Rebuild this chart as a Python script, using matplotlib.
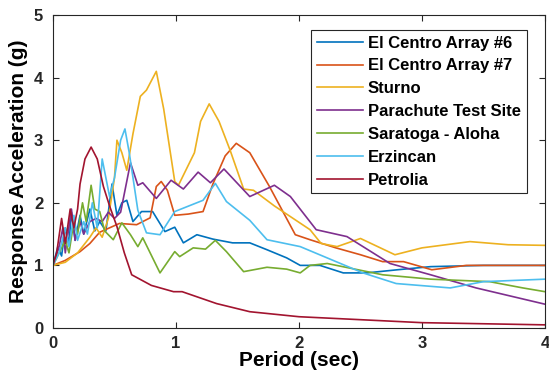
import numpy as np
import matplotlib
matplotlib.use('Agg')
import matplotlib.pyplot as plt

plt.rcParams['font.family'] = ['Liberation Sans', 'DejaVu Sans']

# Werte (Periode in s, Beschleunigung in g)
labels = ['El Centro Array #6', 'El Centro Array #7', 'Sturno', 'Parachute Test Site',
          'Saratoga - Aloha', 'Erzincan', 'Petrolia']
colors = ['#0072BD', '#D95319', '#EDB120', '#7E2F8E', '#77AC30', '#4DBEEE', '#A2142F']

t_centro6 = [0, 0.04, 0.07, 0.1, 0.13, 0.15, 0.18, 0.22, 0.25, 0.3, 0.34, 0.38, 0.43, 0.48, 0.52, 0.56,
             0.6, 0.65, 0.72, 0.81, 0.91, 0.99, 1.06, 1.17, 1.3, 1.46, 1.6, 1.74, 1.9, 2.01, 2.17,
             2.36, 2.55, 2.8, 3.07, 3.5, 4.0]
a_centro6 = [1.0, 1.3, 1.15, 1.6, 1.35, 1.85, 1.4, 1.8, 1.5, 1.9, 1.55, 1.7, 1.55, 2.3, 1.8, 2.0,
             2.04, 1.7, 1.86, 1.86, 1.54, 1.61, 1.36, 1.49, 1.42, 1.36, 1.36, 1.25, 1.12, 1.0, 1.0,
             0.88, 0.88, 0.93, 0.98, 1.0, 1.0]

t_centro7 = [0, 0.1, 0.22, 0.3, 0.38, 0.46, 0.54, 0.68, 0.79, 0.84, 0.88, 0.93, 0.99, 1.1, 1.22,
             1.3, 1.4, 1.49, 1.6, 1.76, 1.97, 2.09, 2.3, 2.5, 2.68, 2.85, 3.08, 3.36, 3.7, 4.0]
a_centro7 = [1.0, 1.08, 1.22, 1.35, 1.53, 1.6, 1.67, 1.65, 1.76, 2.26, 2.34, 2.2, 1.8, 1.82, 1.86,
             2.3, 2.75, 2.95, 2.8, 2.26, 1.49, 1.41, 1.28, 1.17, 1.06, 1.06, 0.93, 1.0, 1.0, 1.0]

t_sturno = [0, 0.1, 0.2, 0.3, 0.35, 0.4, 0.45, 0.5, 0.52, 0.56, 0.6, 0.65, 0.71, 0.76, 0.84, 0.9,
            0.99, 1.02, 1.1, 1.15, 1.2, 1.27, 1.35, 1.44, 1.55, 1.63, 1.8, 2.09, 2.18, 2.31, 2.5,
            2.78, 3.0, 3.39, 3.7, 4.0]
a_sturno = [1.0, 1.05, 1.2, 1.45, 1.6, 1.45, 1.75, 2.4, 3.0, 2.8, 2.52, 3.1, 3.7, 3.8, 4.1, 3.5,
            2.34, 2.28, 2.6, 2.8, 3.3, 3.58, 3.3, 2.84, 2.22, 2.2, 1.95, 1.57, 1.35, 1.3, 1.43,
            1.17, 1.28, 1.38, 1.33, 1.32]

t_parachute = [0, 0.05, 0.08, 0.1, 0.15, 0.18, 0.22, 0.25, 0.3, 0.35, 0.4, 0.45, 0.5, 0.55, 0.63,
               0.69, 0.73, 0.84, 0.96, 1.06, 1.18, 1.28, 1.39, 1.6, 1.8, 1.93, 2.14, 2.39, 2.74,
               3.07, 3.44, 4.0]
a_parachute = [1.0, 1.3, 1.6, 1.2, 1.9, 1.4, 1.7, 1.5, 1.7, 1.75, 1.7, 1.85, 1.75, 1.85, 2.64,
               2.28, 2.32, 2.07, 2.36, 2.22, 2.49, 2.32, 2.54, 2.1, 2.28, 2.1, 1.57, 1.46, 1.03,
               0.85, 0.64, 0.38]

t_saratoga = [0, 0.05, 0.1, 0.13, 0.17, 0.2, 0.24, 0.27, 0.31, 0.34, 0.38, 0.42, 0.49, 0.56, 0.63,
              0.69, 0.73, 0.87, 0.99, 1.03, 1.14, 1.24, 1.32, 1.41, 1.55, 1.74, 1.9, 2.01, 2.09,
              2.23, 2.68, 3.07, 3.55, 3.82, 4.0]
a_saratoga = [1.0, 1.2, 1.4, 1.2, 1.7, 1.5, 2.0, 1.7, 2.28, 1.9, 1.86, 1.55, 1.41, 1.68, 1.49,
              1.3, 1.44, 0.88, 1.22, 1.14, 1.28, 1.26, 1.4, 1.22, 0.9, 0.97, 0.94, 0.88, 1.0,
              1.03, 0.85, 0.78, 0.74, 0.64, 0.58]

t_erzincan = [0, 0.05, 0.1, 0.13, 0.17, 0.2, 0.25, 0.28, 0.32, 0.36, 0.4, 0.43, 0.46, 0.5, 0.55,
              0.585, 0.62, 0.69, 0.76, 0.87, 0.99, 1.22, 1.32, 1.41, 1.6, 1.74, 2.01, 2.52, 2.79,
              3.23, 3.5, 4.0]
a_erzincan = [1.0, 1.2, 1.6, 1.3, 1.8, 1.4, 1.7, 1.5, 2.0, 1.6, 2.7, 2.4, 2.1, 2.4, 3.0,
              3.18, 2.8, 1.88, 1.52, 1.49, 1.86, 2.04, 2.31, 2.02, 1.72, 1.41, 1.3, 0.88, 0.71,
              0.64, 0.74, 0.78]

t_petrolia = [0, 0.03, 0.07, 0.1, 0.14, 0.17, 0.2, 0.22, 0.26, 0.31, 0.36, 0.41, 0.46, 0.52, 0.58,
              0.64, 0.8, 0.98, 1.05, 1.33, 1.6, 2.0, 3.0, 4.0]
a_petrolia = [1.0, 1.2, 1.75, 1.35, 1.9, 1.6, 1.9, 2.3, 2.7, 2.89, 2.7, 2.26, 1.95, 1.62, 1.2,
              0.85, 0.68, 0.58, 0.58, 0.39, 0.26, 0.18, 0.085, 0.05]

series = [(t_centro6, a_centro6), (t_centro7, a_centro7), (t_sturno, a_sturno),
          (t_parachute, a_parachute), (t_saratoga, a_saratoga), (t_erzincan, a_erzincan),
          (t_petrolia, a_petrolia)]

fig = plt.figure(figsize=(5.49, 3.82), dpi=100)
ax = fig.add_axes([0.0965, 0.1414, 0.8962, 0.8193])

for (t, a), c, lab in zip(series, colors, labels):
    ax.plot(t, a, color=c, lw=1.2, label=lab)

ax.set_xlim(0, 4)
ax.set_ylim(0, 5)
ax.set_xticks([0, 1, 2, 3, 4])
ax.set_yticks([0, 1, 2, 3, 4, 5])
ax.tick_params(direction='in', top=True, right=True, labelsize=12, colors='#262626', length=4)
ax.tick_params(axis='y', pad=7)
ax.tick_params(axis='x', pad=6)
for lbl in ax.get_xticklabels() + ax.get_yticklabels():
    lbl.set_fontweight('bold')
for s in ax.spines.values():
    s.set_color('#262626')
    s.set_linewidth(0.8)
ax.set_xlabel('Period (sec)', fontsize=15, fontweight='bold', labelpad=0)
ax.set_ylabel('Response Acceleration (g)', fontsize=15, fontweight='bold', labelpad=4)

leg = ax.legend(loc='upper right', bbox_to_anchor=(0.963, 0.953),
                prop={'weight': 'bold', 'size': 12}, fancybox=False, edgecolor='#262626',
                framealpha=1, handlelength=2.75, labelspacing=0.47, borderpad=0.35,
                handletextpad=0.3, borderaxespad=0)
leg.get_frame().set_linewidth(0.8)

fig.savefig('out.png', dpi=100)
